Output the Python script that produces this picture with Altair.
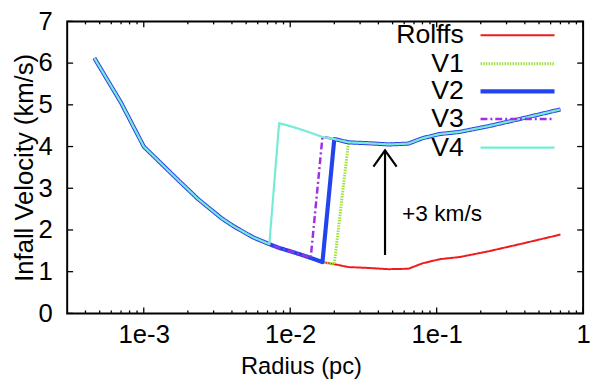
import altair as alt
import pandas as pd

# ---------------- data ----------------
radius = [4.6e-4, 7.0e-4, 1.0e-3, 1.6e-3, 2.35e-3, 3.4e-3, 4.1e-3, 5.6e-3,
          7.2e-3, 8.4e-3, 1.0e-2, 1.18e-2, 1.38e-2, 1.66e-2, 2.0e-2, 2.5e-2,
          3.4e-2, 4.7e-2, 6.4e-2, 8.0e-2, 1.05e-1, 1.43e-1, 2.27e-1, 3.8e-1, 7.0e-1]
rolffs_v = [6.12, 5.05, 4.00, 3.30, 2.74, 2.28, 2.09, 1.82,
            1.66, 1.57, 1.49, 1.41, 1.33, 1.23, 1.18, 1.11,
            1.09, 1.06, 1.07, 1.20, 1.30, 1.35, 1.49, 1.67, 1.89]
# raised branch (+3 km/s), read for radius[9:] onwards
raised_v = [4.56, 4.49, 4.41, 4.33, 4.23, 4.18, 4.10,
            4.08, 4.05, 4.07, 4.20, 4.30, 4.35, 4.49, 4.67, 4.89]
raised_start = 9
# last radius index that still follows the Rolffs profile, per model
last_unraised = {"V1": 14, "V2": 13, "V3": 12, "V4": 8}

series_names = ["Rolffs", "V1", "V2", "V3", "V4"]
series_colors = ["#ee1c1c", "#9ee03a", "#2244ee", "#9b30e6", "#74ecd6"]
series_widths = [2.0, 3.0, 4.2, 2.5, 2.2]
series_dash = [[1, 0], [1.5, 1.2], [1, 0], [7, 3, 2, 3], [1, 0]]

arrow_r = [4.44e-2, 4.44e-2]
arrow_v = [1.40, 3.91]
head_r = [3.70e-2, 4.44e-2, 5.33e-2]
head_v = [3.52, 3.91, 3.52]
note_r = [5.8e-2]
note_v = [2.38]
note_text = ["+3 km/s"]

x_tick_values = [1e-3, 1e-2, 1e-1, 1]
x_minor = [4e-4, 5e-4, 6e-4, 7e-4, 8e-4, 9e-4,
           2e-3, 3e-3, 4e-3, 5e-3, 6e-3, 7e-3, 8e-3, 9e-3,
           2e-2, 3e-2, 4e-2, 5e-2, 6e-2, 7e-2, 8e-2, 9e-2,
           2e-1, 3e-1, 4e-1, 5e-1, 6e-1, 7e-1, 8e-1, 9e-1]
y_tick_values = [0, 1, 2, 3, 4, 5, 6, 7]

W, H = 523, 296
FONT = "Liberation Sans"

# ---------------- build series ----------------
def series_values(name):
    if name == "Rolffs":
        return rolffs_v
    j = last_unraised[name]
    return rolffs_v[: j + 1] + raised_v[j + 1 - raised_start:]

x_scale = alt.Scale(type="log", domain=[3e-4, 1], nice=False)
y_scale = alt.Scale(domain=[0, 7], nice=False)

x_axis = alt.Axis(values=x_tick_values,
                  labelExpr="datum.value >= 1 ? '1' : format(datum.value, '.0e')",
                  title="Radius (pc)", labelPadding=9, titlePadding=7,
                  titleX=237, titleAnchor="middle", titleAlign="center",
                  ticks=False, tickSize=0, domain=False, grid=False,
                  labelFontSize=26, titleFontSize=24, labelFlush=False, labelOverlap=False)
y_axis = alt.Axis(values=y_tick_values, title="Infall Velocity (km/s)",
                  labelPadding=15, titlePadding=1, ticks=False, tickSize=0,
                  domain=False, grid=False, labelFontSize=26, titleFontSize=26,
                  labelFlush=False, labelOverlap=False)

XE = alt.X("r:Q", scale=x_scale, axis=x_axis)
YE = alt.Y("v:Q", scale=y_scale, axis=y_axis)

layers = []
for i, name in enumerate(series_names):
    df = pd.DataFrame({"r": radius, "v": series_values(name), "o": list(range(len(radius)))})
    layers.append(
        alt.Chart(df).mark_line(color=series_colors[i], strokeWidth=series_widths[i],
                                strokeDash=series_dash[i], strokeJoin="round")
        .encode(x=XE, y=YE, order="o:Q")
    )

# arrow and annotation
arrow_df = pd.DataFrame({"r": arrow_r, "v": arrow_v})
head_df = pd.DataFrame({"r": head_r, "v": head_v, "o": [0, 1, 2]})
note_df = pd.DataFrame({"r": note_r, "v": note_v, "t": note_text})
layers.append(alt.Chart(arrow_df).mark_line(color="black", strokeWidth=2.2).encode(x=XE, y=YE))
layers.append(alt.Chart(head_df).mark_line(color="black", strokeWidth=2.2)
              .encode(x=XE, y=YE, order="o:Q"))
layers.append(alt.Chart(note_df).mark_text(align="left", baseline="middle", fontSize=23, font=FONT,
                                           color="black")
              .encode(x=XE, y=YE, text="t:N"))

# inward tick marks (mirrored on all sides)
xmaj = pd.DataFrame({"r": x_tick_values})
xmin = pd.DataFrame({"r": x_minor})
ydf = pd.DataFrame({"v": y_tick_values})
tick_style = dict(color="black", strokeWidth=1.3)
for df, ln in ((xmaj, 6), (xmin, 3)):
    layers.append(alt.Chart(df).mark_rule(**tick_style)
                  .encode(x=XE, y=alt.value(H), y2=alt.value(H - ln)))
    layers.append(alt.Chart(df).mark_rule(**tick_style)
                  .encode(x=XE, y=alt.value(0), y2=alt.value(ln)))
layers.append(alt.Chart(ydf).mark_rule(**tick_style).encode(y=YE, x=alt.value(0), x2=alt.value(6)))
layers.append(alt.Chart(ydf).mark_rule(**tick_style).encode(y=YE, x=alt.value(W), x2=alt.value(W - 6)))

# legend: label text on the left, line sample on the right
leg_y = [14, 43, 71, 99, 128]
for i, name in enumerate(series_names):
    one = pd.DataFrame({"t": [name]})
    layers.append(alt.Chart(one).mark_text(align="right", baseline="middle", fontSize=27,
                                           font=FONT, color="black")
                  .encode(x=alt.value(402), y=alt.value(leg_y[i]), text="t:N"))
    layers.append(alt.Chart(one).mark_rule(color=series_colors[i], strokeWidth=series_widths[i],
                                           strokeDash=series_dash[i])
                  .encode(x=alt.value(419), x2=alt.value(494), y=alt.value(leg_y[i])))

chart = (alt.layer(*layers)
         .properties(width=W, height=H, autosize="none",
                     padding={"left": 60, "top": 11, "right": 9, "bottom": 70})
         .configure_view(stroke="black", strokeWidth=2)
         .configure_axis(labelFont=FONT, titleFont=FONT, labelColor="black", titleColor="black",
                         titleFontWeight="normal")
         .configure_text(font=FONT))

chart.save("out.html", embed_options={"renderer": "svg", "actions": False})
